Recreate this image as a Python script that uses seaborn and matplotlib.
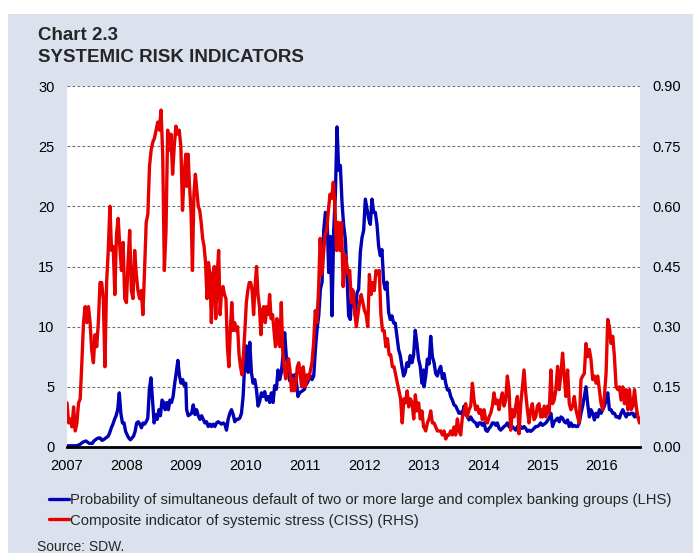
import numpy as np
import pandas as pd
import matplotlib
matplotlib.use("Agg")
import matplotlib.pyplot as plt
from matplotlib.lines import Line2D
from matplotlib.patches import Rectangle
import seaborn as sns

# readings are evenly spaced inside each of these periods
periods = [("2007-01-01", "2008-12-31"), ("2009-01-05", "2010-12-31"),
           ("2011-01-05", "2012-12-31"), ("2013-01-03", "2014-12-31"),
           ("2015-01-01", "2016-08-19")]

# probability of simultaneous default, percent (LHS)
pd_0708 = [0.1, 0.1, 0.1, 0.1, 0.1, 0.1, 0.1, 0.15, 0.2, 0.3, 0.4, 0.45, 0.5, 0.4, 0.3, 0.3, 0.3, 0.5, 0.6, 0.7,
           0.75, 0.75, 0.55, 0.6, 0.7, 0.8, 0.9, 1.2, 1.6, 1.9, 2.3, 2.6, 3.1, 4.5, 2.8, 2.0, 2.0, 1.3, 1.0, 0.75,
           0.6, 0.75, 0.9, 1.3, 2.0, 2.1, 1.9, 1.6, 2.0, 1.9, 2.1, 2.4, 4.8, 5.75, 3.9, 2.0, 2.7, 2.3, 3.1, 2.6,
           3.9, 3.7, 3.1, 3.7, 3.1, 3.9, 3.7, 4.2, 5.3, 6.2, 7.2, 5.9, 5.3, 5.6, 5.1, 5.3]
pd_0910 = [3.1, 2.6, 2.7, 2.8, 3.5, 2.7, 3.1, 2.6, 2.3, 2.6, 2.3, 2.0, 2.1, 1.7, 1.9, 1.7, 1.9, 1.7, 2.0, 2.1,
           2.0, 1.9, 2.0, 1.9, 1.4, 2.3, 2.8, 3.1, 2.7, 2.1, 2.3, 2.3, 2.4, 2.8, 4.2,
           7.0, 8.4, 6.2, 8.7, 6.2, 5.3, 5.6, 4.8, 3.4, 3.8, 4.5, 4.2, 4.6, 3.9, 4.2, 3.7, 4.5, 3.7, 5.1, 4.8,
           6.4, 5.6, 6.2, 7.6, 9.5, 7.5, 6.5, 5.5, 6.0, 5.8, 6.0, 5.5, 4.2, 4.5, 4.6, 4.7, 4.8]
pd_1112 = [5.1, 5.3, 5.6, 5.9, 5.6, 5.9, 8.1, 9.8, 10.9, 13.1, 13.7, 18.0, 19.5, 19.2, 14.5, 17.5, 10.9, 18.0,
           21.0, 26.6, 23.0, 23.4, 20.3, 18.4, 17.3, 14.0, 10.9, 10.6, 13.1, 12.3, 10.9, 12.8, 13.1, 16.2, 17.4,
           18.0, 20.6, 19.8, 19.0, 18.5, 20.6, 19.5, 19.5, 18.5, 16.7, 15.9, 16.4, 13.7, 13.1, 13.7, 11.2, 10.6,
           10.9, 10.3, 10.3, 9.2, 8.1, 7.6, 6.7, 5.9, 6.2, 7.0, 6.7, 7.6, 7.0, 7.6, 9.7, 8.6, 7.3, 6.7, 5.3, 6.4]
pd_1314 = [5.0, 5.9, 7.3, 6.9, 9.2, 7.5, 7.0, 6.1, 5.9, 6.4, 6.7, 5.7, 6.1, 5.3, 4.75, 4.75, 4.2, 3.9, 3.5, 3.4,
           3.1, 2.8, 2.9, 2.7, 3.4, 2.8, 2.5, 2.25, 2.5, 2.25, 2.1, 2.0, 1.7, 2.0, 2.0, 1.8, 2.0, 1.4, 1.3, 1.55,
           1.7, 2.0, 2.0, 1.8, 2.0, 1.55, 1.4, 1.55, 1.7, 1.8, 2.0, 1.7, 1.55, 1.7, 1.55, 1.4, 1.7, 1.4, 1.7, 1.55,
           1.7, 1.55, 1.3, 1.4, 1.3, 1.4, 1.55, 1.7, 1.7, 1.8, 2.0, 1.8]
pd_1516 = [1.8, 1.9, 2.0, 2.2, 2.4, 2.8, 1.7, 2.1, 2.25, 2.4, 2.1, 2.5, 2.4, 2.1, 2.0, 2.25, 1.7, 2.0, 1.7, 1.8,
           1.7, 1.7, 2.0, 2.8, 3.4, 4.2, 5.0, 3.6, 2.5, 3.1, 2.8, 2.25, 2.8, 2.5, 3.1, 2.8, 3.1, 3.4, 3.9, 4.5,
           3.1, 3.1, 2.8, 2.8, 2.5, 2.5, 2.4, 2.8, 3.1, 2.8, 2.5, 2.8, 2.7, 2.8, 2.8, 2.5, 2.8, 2.5, 2.25]

# composite indicator of systemic stress (RHS)
ciss_0708 = [0.11, 0.06, 0.07, 0.05, 0.10, 0.04, 0.06, 0.11, 0.12, 0.21, 0.31, 0.35, 0.31, 0.35, 0.31, 0.24,
             0.21, 0.28, 0.25, 0.31, 0.41, 0.41, 0.37, 0.20, 0.41, 0.49, 0.60, 0.49, 0.50, 0.38, 0.53, 0.57,
             0.50, 0.44, 0.51, 0.37, 0.36, 0.46, 0.54, 0.39, 0.37, 0.49, 0.43, 0.39, 0.37, 0.39, 0.33, 0.44,
             0.56, 0.58, 0.70, 0.74, 0.76, 0.77, 0.79, 0.81, 0.79, 0.84, 0.73, 0.44, 0.54, 0.79, 0.74, 0.78,
             0.68, 0.75, 0.80, 0.78, 0.79, 0.75, 0.59, 0.68, 0.73]
ciss_0910 = [0.65, 0.73, 0.65, 0.59, 0.44, 0.63, 0.68, 0.64, 0.60, 0.59, 0.56, 0.52, 0.50, 0.46, 0.37, 0.46,
             0.43, 0.31, 0.43, 0.45, 0.32, 0.43, 0.49, 0.33, 0.39, 0.40, 0.38, 0.37, 0.25, 0.20, 0.29, 0.36,
             0.29, 0.31, 0.29, 0.30, 0.23, 0.20, 0.18, 0.23, 0.29, 0.36, 0.39, 0.41, 0.41, 0.39, 0.33, 0.40,
             0.45, 0.38, 0.35, 0.28, 0.34, 0.35, 0.31, 0.35, 0.33, 0.38, 0.32, 0.33, 0.29, 0.25, 0.32, 0.26,
             0.25, 0.36, 0.24, 0.20, 0.17, 0.20, 0.22, 0.19, 0.14, 0.17, 0.14, 0.16, 0.20, 0.21, 0.18, 0.15,
             0.20, 0.17]
ciss_1112 = [0.15, 0.18, 0.17, 0.19, 0.21, 0.26, 0.34, 0.31, 0.39, 0.52, 0.43, 0.48, 0.53, 0.54, 0.59, 0.63,
             0.62, 0.66, 0.60, 0.49, 0.56, 0.49, 0.56, 0.40, 0.48, 0.46, 0.43, 0.44, 0.36, 0.39, 0.34, 0.30,
             0.33, 0.36, 0.38, 0.36, 0.34, 0.33, 0.30, 0.43, 0.38, 0.41, 0.39, 0.44, 0.43, 0.44, 0.33, 0.29,
             0.29, 0.25, 0.27, 0.23, 0.23, 0.20, 0.20, 0.18, 0.16, 0.14, 0.12, 0.06, 0.12, 0.11, 0.14, 0.10,
             0.12, 0.11, 0.07, 0.13, 0.09, 0.11, 0.07, 0.09, 0.05]
ciss_1314 = [0.05, 0.04, 0.06, 0.07, 0.09, 0.06, 0.06, 0.05, 0.04, 0.04, 0.04, 0.03, 0.04, 0.02, 0.03, 0.03,
             0.04, 0.03, 0.05, 0.03, 0.07, 0.04, 0.03, 0.075, 0.084, 0.108, 0.075, 0.093, 0.102, 0.159, 0.117,
             0.093, 0.102, 0.084, 0.093, 0.068, 0.093, 0.068, 0.06, 0.075, 0.084, 0.102, 0.135, 0.108, 0.117,
             0.093, 0.117, 0.135, 0.102, 0.117, 0.177, 0.143, 0.042, 0.093, 0.075, 0.102, 0.126, 0.033, 0.105,
             0.15, 0.192, 0.135, 0.093, 0.06, 0.093, 0.108, 0.068, 0.075, 0.102, 0.108, 0.075, 0.093]
ciss_1516 = [0.075, 0.102, 0.075, 0.102, 0.084, 0.192, 0.108, 0.117, 0.143, 0.201, 0.143, 0.183, 0.234, 0.177,
             0.126, 0.192, 0.108, 0.093, 0.102, 0.126, 0.093, 0.075, 0.06, 0.168, 0.177, 0.183, 0.258, 0.225,
             0.243, 0.218, 0.168, 0.177, 0.159, 0.177, 0.143, 0.108, 0.093, 0.126, 0.183, 0.318, 0.30, 0.258,
             0.276, 0.225, 0.15, 0.143, 0.15, 0.117, 0.15, 0.108, 0.143, 0.093, 0.143, 0.093, 0.102, 0.143,
             0.102, 0.075, 0.06]

years = list(range(2007, 2017))
lhs_ticks = [0, 5, 10, 15, 20, 25, 30]
rhs_ticks = [0.0, 0.15, 0.30, 0.45, 0.60, 0.75, 0.90]

label_pd = "Probability of simultaneous default of two or more large and complex banking groups (LHS)"
label_ciss = "Composite indicator of systemic stress (CISS) (RHS)"


def build(chunks):
    frames = []
    for (start, end), vals in zip(periods, chunks):
        dates = pd.date_range(start, end, periods=len(vals))
        frames.append(pd.DataFrame({"date": dates, "value": vals}))
    return pd.concat(frames, ignore_index=True)


df_pd = build([pd_0708, pd_0910, pd_1112, pd_1314, pd_1516])
df_ciss = build([ciss_0708, ciss_0910, ciss_1112, ciss_1314, ciss_1516])

sns.set_theme(style="white")
plt.rcParams["font.family"] = ["Liberation Sans", "DejaVu Sans"]

bg = "#dbe2ee"
blue = "#0000b4"
red = "#e60000"
W, H = 693, 553

fig = plt.figure(figsize=(W / 100, H / 100), dpi=100)
fig.patches.append(Rectangle((8 / W, 0), 1, 1 - 14 / H, transform=fig.transFigure,
                             facecolor=bg, edgecolor="none", zorder=-10))

ax = fig.add_axes([67 / W, 1 - 447 / H, (640 - 67) / W, (447 - 86) / H])
ax2 = ax.twinx()

sns.lineplot(data=df_pd, x="date", y="value", ax=ax, color=blue, lw=2.4, legend=False)
sns.lineplot(data=df_ciss, x="date", y="value", ax=ax2, color=red, lw=2.4, legend=False)

ax.set_xlim(pd.Timestamp("2007-01-01"), pd.Timestamp("2016-08-22"))
ax.set_ylim(0, 30)
ax2.set_ylim(0, 0.9)

ax.set_xticks([pd.Timestamp(f"{y}-01-01") for y in years])
ax.set_xticklabels([str(y) for y in years])
ax.set_yticks(lhs_ticks)
ax.set_yticklabels([str(t) for t in lhs_ticks])
ax2.set_yticks(rhs_ticks)
ax2.set_yticklabels([f"{t:.2f}" for t in rhs_ticks])

ax.set_xlabel("")
ax.set_ylabel("")
ax2.set_ylabel("")

ax.yaxis.grid(True, linestyle=(0, (2.5, 2)), color="#6e6e6e", lw=0.8)
ax.set_axisbelow(True)
for a in (ax, ax2):
    for s in ("left", "right", "top"):
        a.spines[s].set_visible(False)
ax.spines["bottom"].set_visible(True)
ax.spines["bottom"].set_color("black")
ax.spines["bottom"].set_linewidth(2)
ax2.spines["bottom"].set_visible(False)

ax.tick_params(axis="x", length=0, pad=9, labelsize=10.5, colors="black")
ax.tick_params(axis="y", length=0, pad=9, labelsize=10.5, colors="black")
ax2.tick_params(axis="y", length=0, pad=9, labelsize=10.5, colors="black")

fig.text(38 / W, 1 - 36 / H, "Chart 2.3", weight="bold", fontsize=13.5, va="center", ha="left")
fig.text(38 / W, 1 - 57 / H, "SYSTEMIC RISK INDICATORS", weight="bold", fontsize=13.5,
         va="center", ha="left")

handles = [Line2D([], [], color=blue, lw=2.4), Line2D([], [], color=red, lw=2.4)]
fig.legend(handles, [label_pd, label_ciss], loc="upper left", bbox_to_anchor=(49 / W, 1 - 493 / H),
           frameon=False, fontsize=10.7, handlelength=1.35, handletextpad=0.05, labelspacing=0.44,
           borderpad=0, borderaxespad=0)

fig.text(37 / W, 1 - 547 / H, "Source: SDW.", fontsize=10, va="center", ha="left")

fig.savefig("out.png", dpi=100, facecolor="white")
